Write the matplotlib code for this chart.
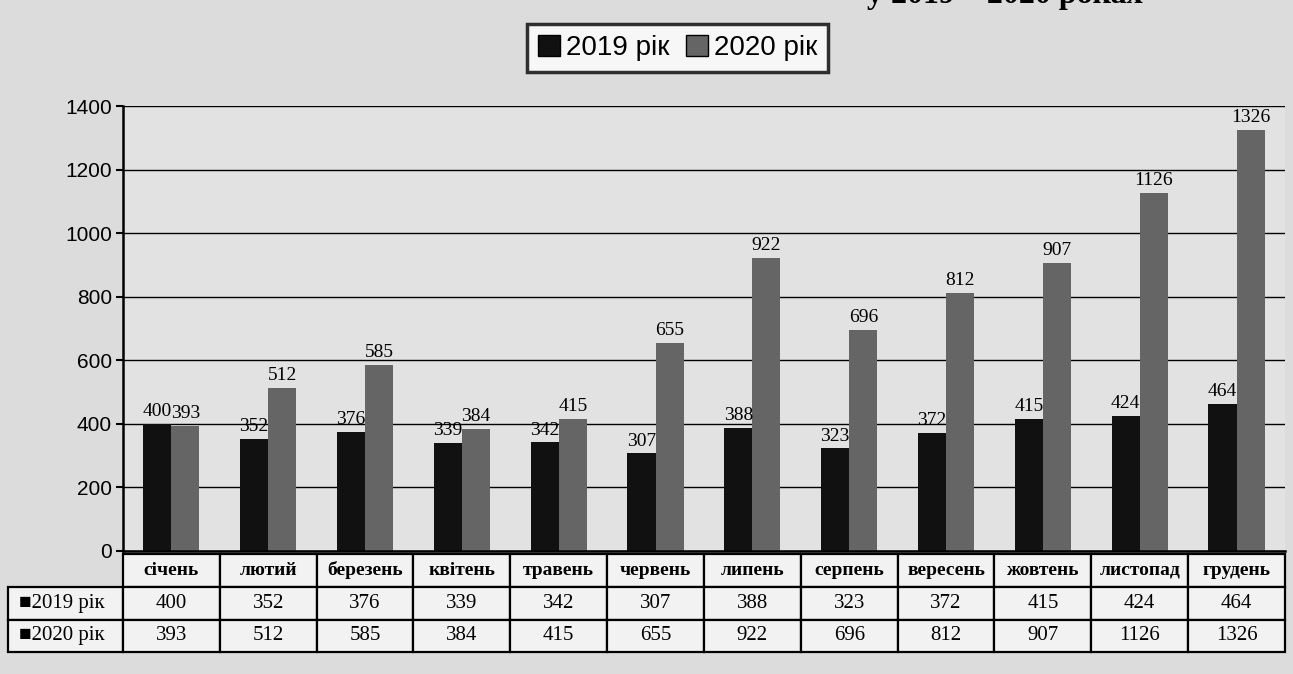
import matplotlib.pyplot as plt
import numpy as np
from matplotlib.patches import Patch
from matplotlib.table import Table

months = ['січень', 'лютий', 'березень', 'квітень', 'травень', 'червень',
          'липень', 'серпень', 'вересень', 'жовтень', 'листопад', 'грудень']
values_2019 = [400, 352, 376, 339, 342, 307, 388, 323, 372, 415, 424, 464]
values_2020 = [393, 512, 585, 384, 415, 655, 922, 696, 812, 907, 1126, 1326]
series_names = ['2019 рік', '2020 рік']
yticks = [0, 200, 400, 600, 800, 1000, 1200, 1400]

c2019 = '#111111'
c2020 = '#656565'

fig = plt.figure(figsize=(12.93, 6.74), dpi=100, facecolor='#dcdcdc')
ax = fig.add_axes([0.0951, 0.1825, 0.8987, 0.660])
ax.set_facecolor('#e2e2e2')

x = np.arange(len(months))
w = 0.29
ax.bar(x - w / 2, values_2019, w, color=c2019, zorder=2)
ax.bar(x + w / 2, values_2020, w, color=c2020, zorder=2)

for i in range(len(months)):
    ax.text(x[i] - w / 2, values_2019[i] + 12, str(values_2019[i]), ha='center', va='bottom',
            fontfamily='Liberation Serif', fontsize=14, zorder=3)
    ax.text(x[i] + w / 2, values_2020[i] + 12, str(values_2020[i]), ha='center', va='bottom',
            fontfamily='Liberation Serif', fontsize=14, zorder=3)

ax.set_xlim(-0.5, len(months) - 0.5)
ax.set_ylim(0, 1400)
ax.set_yticks(yticks)
ax.set_xticks([])
ax.yaxis.grid(True, color='black', linewidth=1)
ax.set_axisbelow(True)
for lab in ax.get_yticklabels():
    lab.set_fontfamily('Liberation Sans')
    lab.set_fontsize(15)
ax.tick_params(axis='y', length=5, width=1.5, direction='out', pad=3)
ax.spines['top'].set_visible(False)
ax.spines['right'].set_visible(False)
ax.spines['left'].set_linewidth(1.8)
ax.spines['bottom'].set_linewidth(1.8)

# data table under the chart
rows = [[str(v) for v in values_2019], [str(v) for v in values_2020]]
row_labels = ['■' + series_names[0], '■' + series_names[1]]
label_w = 0.099
col_w = 1 / 12
row_h = 0.074
tbl = Table(ax, bbox=[-label_w, -0.228, 1 + label_w, 0.222])
for j, m in enumerate(months):
    tbl.add_cell(0, j + 1, width=col_w, height=row_h, text=m, loc='center')
for i in range(2):
    tbl.add_cell(i + 1, 0, width=label_w, height=row_h, text=row_labels[i], loc='left')
    for j in range(len(months)):
        tbl.add_cell(i + 1, j + 1, width=col_w, height=row_h, text=rows[i][j], loc='center')
tbl.auto_set_font_size(False)
for (r, c), cell in tbl.get_celld().items():
    cell.set_edgecolor('black')
    cell.set_linewidth(1.6)
    cell.set_facecolor('#f2f2f2')
    t = cell.get_text()
    t.set_fontfamily('Liberation Serif')
    if r == 0:
        t.set_fontsize(14)
        t.set_fontweight('bold')
    else:
        t.set_fontsize(15)
ax.add_table(tbl)

handles = [Patch(facecolor=c2019, edgecolor='black'), Patch(facecolor=c2020, edgecolor='black')]
leg = fig.legend(handles, series_names, loc='center', bbox_to_anchor=(0.524, 0.929), ncol=2,
                 frameon=True, fancybox=False, edgecolor='black', facecolor='white',
                 handlelength=0.8, handleheight=0.8, handletextpad=0.2, columnspacing=0.6,
                 borderpad=0.4, prop={'family': 'Liberation Sans', 'size': 20})
leg.get_frame().set_linewidth(2.5)

# title cut off at the top of the scan
fig.text(0.884, 1.006, 'у 2019 – 2020 роках', ha='right', va='center',
         fontfamily='Liberation Serif', fontweight='bold', fontsize=23)

fig.savefig('out.png', dpi=100, facecolor=fig.get_facecolor())
